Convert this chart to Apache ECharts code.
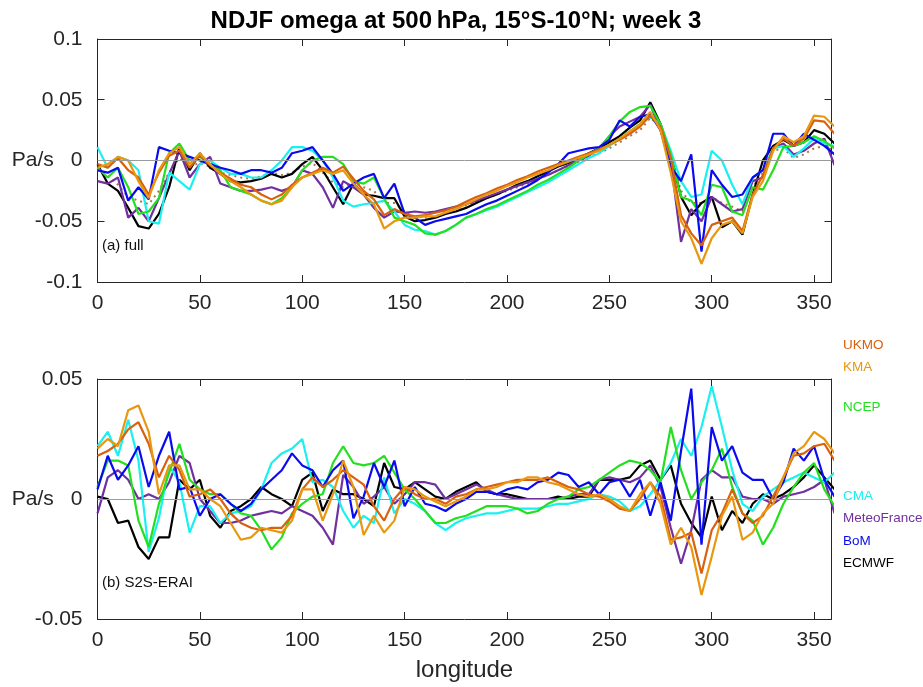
<!DOCTYPE html>
<html>
<head>
<meta charset="utf-8">
<script src="https://cdn.jsdelivr.net/npm/echarts@6/dist/echarts.min.js"></script>
<style>
  html, body { margin: 0; padding: 0; background: #fff; }
  #chart { width: 923px; height: 687px; }
</style>
</head>
<body>
<div id="chart"></div>
<script>
// longitude (deg E), shared by both panels
const lon = [0, 5, 10, 15, 20, 25, 30, 35, 40, 45, 50, 55, 60, 65, 70, 75, 80, 85, 90, 95,
  100, 105, 110, 115, 120, 125, 130, 135, 140, 145, 150, 155, 160, 165, 170, 175, 180, 185, 190, 195,
  200, 205, 210, 215, 220, 225, 230, 235, 240, 245, 250, 255, 260, 265, 270, 275, 280, 285, 290, 295,
  300, 305, 310, 315, 320, 325, 330, 335, 340, 345, 350, 355, 360];

// (a) full field, Pa/s
const ukmoTop = [-0.003, -0.006, 0.002, -0.008, -0.014, -0.028, -0.01, 0.004, 0.008, -0.006,
  0.004, -0.004, -0.01, -0.015, -0.02, -0.022, -0.028, -0.032, -0.028, -0.02,
  -0.014, -0.01, -0.006, -0.01, -0.005, -0.015, -0.025, -0.032, -0.045, -0.04,
  -0.044, -0.046, -0.045, -0.043, -0.041, -0.038, -0.034, -0.03, -0.027, -0.023,
  -0.02, -0.016, -0.013, -0.009, -0.006, -0.003, 0, 0.003, 0.006, 0.009,
  0.013, 0.017, 0.022, 0.028, 0.037, 0.028, 0.002, -0.045, -0.06, -0.07,
  -0.053, -0.05, -0.047, -0.058, -0.028, -0.012, 0.01, 0.018, 0.012, 0.018,
  0.033, 0.032, 0.022];
const kmaTop = [-0.006, -0.003, 0.003, 0, -0.017, -0.031, -0.008, 0.006, 0.011, -0.003,
  0.006, -0.003, -0.011, -0.017, -0.022, -0.028, -0.033, -0.036, -0.033, -0.022,
  -0.014, -0.011, -0.008, -0.011, -0.008, -0.019, -0.028, -0.036, -0.056, -0.05,
  -0.047, -0.047, -0.046, -0.046, -0.043, -0.04, -0.036, -0.032, -0.028, -0.025,
  -0.021, -0.018, -0.014, -0.011, -0.008, -0.004, -0.001, 0.002, 0.005, 0.008,
  0.013, 0.018, 0.024, 0.03, 0.04, 0.025, -0.01, -0.05, -0.064, -0.085,
  -0.064, -0.053, -0.05, -0.06, -0.03, -0.017, 0.008, 0.02, 0.015, 0.02,
  0.037, 0.036, 0.028];
const ncepTop = [-0.006, -0.014, -0.006, -0.022, -0.044, -0.042, -0.031, 0.006, 0.014, 0,
  0.003, -0.003, -0.008, -0.022, -0.025, -0.028, -0.033, -0.036, -0.031, -0.022,
  -0.008, 0, 0.003, 0.003, -0.003, -0.017, -0.019, -0.014, -0.031, -0.047,
  -0.05, -0.053, -0.06, -0.061, -0.058, -0.053, -0.047, -0.044, -0.04, -0.037,
  -0.033, -0.029, -0.025, -0.02, -0.016, -0.011, -0.006, 0, 0.005, 0.01,
  0.02, 0.032, 0.04, 0.044, 0.045, 0.03, 0.005, -0.03, -0.033, -0.045,
  -0.02, -0.022, -0.042, -0.045, -0.022, -0.024, -0.008, 0.011, 0.012, 0.015,
  0.02, 0.016, 0.01];
const cmaTop = [0.011, -0.006, 0.003, 0, -0.008, -0.05, -0.052, -0.01, -0.017, -0.024,
  -0.003, 0, -0.006, -0.011, -0.011, -0.014, -0.014, -0.008, 0, 0.011,
  0.011, 0.008, 0, -0.014, -0.033, -0.038, -0.036, -0.035, -0.033, -0.042,
  -0.053, -0.057, -0.058, -0.061, -0.058, -0.053, -0.047, -0.044, -0.041, -0.038,
  -0.034, -0.03, -0.026, -0.022, -0.018, -0.013, -0.008, -0.003, 0.002, 0.006,
  0.012, 0.018, 0.024, 0.03, 0.036, 0.03, 0.008, -0.017, -0.03, -0.028,
  0.008, 0, -0.02, -0.036, -0.014, -0.008, 0.01, 0.012, 0.003, 0.01,
  0.018, 0.014, 0.012];
const mfTop = [-0.017, -0.019, -0.014, -0.047, -0.039, -0.05, -0.031, -0.011, 0.008, -0.014,
  -0.003, 0.003, -0.019, -0.022, -0.025, -0.025, -0.024, -0.022, -0.025, -0.022,
  -0.008, -0.011, -0.022, -0.039, -0.017, -0.022, -0.028, -0.039, -0.047, -0.042,
  -0.043, -0.042, -0.043, -0.042, -0.04, -0.038, -0.036, -0.033, -0.03, -0.027,
  -0.024, -0.021, -0.018, -0.015, -0.012, -0.008, -0.004, 0, 0.004, 0.01,
  0.02, 0.028, 0.032, 0.036, 0.046, 0.025, 0, -0.067, -0.04, -0.05,
  -0.03, -0.036, -0.042, -0.04, -0.017, -0.014, 0.01, 0.014, 0.005, 0.008,
  0.014, 0.018, -0.004];
const bomTop = [-0.008, -0.01, -0.006, -0.033, -0.022, -0.032, 0.011, 0.008, 0.006, 0.003,
  0, -0.003, -0.006, -0.008, -0.011, -0.008, -0.008, -0.01, -0.006, 0.006,
  0.008, 0.011, 0, -0.011, -0.025, -0.019, -0.014, -0.011, -0.031, -0.019,
  -0.044, -0.047, -0.053, -0.05, -0.048, -0.046, -0.044, -0.04, -0.036, -0.033,
  -0.029, -0.025, -0.021, -0.016, -0.01, -0.003, 0.006, 0.008, 0.01, 0.011,
  0.017, 0.033, 0.028, 0.036, 0.038, 0.025, -0.005, -0.017, 0.005, -0.075,
  -0.008, -0.02, -0.03, -0.028, -0.014, -0.008, 0.022, 0.022, 0.012, 0.022,
  0.017, 0.012, 0.005];
const ecmwfTop = [-0.003, -0.019, -0.025, -0.039, -0.054, -0.056, -0.044, -0.022, 0.011, -0.008,
  0.006, -0.006, -0.011, -0.017, -0.018, -0.017, -0.015, -0.011, -0.014, -0.011,
  -0.003, 0.003, -0.008, -0.022, -0.036, -0.019, -0.028, -0.029, -0.031, -0.031,
  -0.046, -0.05, -0.049, -0.047, -0.044, -0.042, -0.039, -0.035, -0.031, -0.028,
  -0.024, -0.02, -0.017, -0.013, -0.009, -0.005, -0.002, 0.002, 0.006, 0.01,
  0.015, 0.02, 0.027, 0.033, 0.048, 0.03, 0.005, -0.03, -0.045, -0.035,
  -0.03, -0.055, -0.05, -0.061, -0.028, 0, 0.012, 0.017, 0.012, 0.015,
  0.025, 0.022, 0.014];
const eraiTop = [-0.008, -0.012, -0.02, -0.03, -0.033, -0.036, -0.025, -0.01, 0.002, -0.005,
  -0.002, -0.005, -0.01, -0.012, -0.014, -0.015, -0.013, -0.01, -0.012, -0.01,
  -0.005, -0.002, -0.01, -0.018, -0.022, -0.018, -0.022, -0.025, -0.035, -0.035,
  -0.042, -0.046, -0.047, -0.046, -0.043, -0.04, -0.037, -0.034, -0.031, -0.028,
  -0.025, -0.022, -0.019, -0.015, -0.012, -0.008, -0.005, -0.001, 0.003, 0.006,
  0.01, 0.015, 0.02, 0.025, 0.035, 0.028, 0.005, -0.025, -0.035, -0.035,
  -0.03, -0.035, -0.038, -0.042, -0.022, -0.01, 0.008, 0.01, 0.002, 0.005,
  0.01, 0.012, 0.008];

// (b) S2S minus ERAI, Pa/s
const ukmoBot = [0.018, 0.02, 0.023, 0.029, 0.032, 0.023, 0.009, 0.018, 0.012, 0.001,
  0.002, 0.004, 0, -0.006, -0.01, -0.012, -0.013, -0.012, -0.012, -0.007,
  0.004, 0.009, 0.005, 0.008, 0.012, 0.009, 0.006, -0.003, -0.009, 0,
  0.005, 0.002, 0, 0, -0.002, 0.001, 0.002, 0.004, 0.005, 0.006,
  0.007, 0.008, 0.008, 0.008, 0.009, 0.007, 0.005, 0.004, 0.002, 0.001,
  -0.001, -0.004, -0.005, 0, 0.007, 0.001, -0.017, -0.016, -0.014, -0.031,
  -0.013, -0.006, 0.004, -0.006, -0.01, -0.007, 0.001, 0.009, 0.018, 0.019,
  0.022, 0.023, 0.016];
const kmaBot = [0.021, 0.025, 0.022, 0.037, 0.039, 0.028, 0.002, 0.014, 0.014, 0.004,
  0.004, 0, -0.003, -0.01, -0.017, -0.016, -0.012, -0.013, -0.014, -0.009,
  0.004, 0.004, -0.009, 0.002, 0.016, 0.005, -0.015, -0.007, -0.014, -0.009,
  0.005, 0.004, 0.001, -0.001, -0.003, -0.001, 0.001, 0.004, 0.004, 0.005,
  0.007, 0.007, 0.009, 0.009, 0.007, 0.006, 0.004, 0.002, 0.001, 0.002,
  0, -0.003, -0.005, 0.002, 0.007, -0.002, -0.019, -0.012, -0.02, -0.04,
  -0.024, -0.007, 0.001, -0.017, -0.014, -0.006, -0.002, 0.009, 0.019, 0.022,
  0.028, 0.025, 0.019];
const ncepBot = [0.005, 0.016, 0.016, 0.014, -0.009, -0.02, -0.002, 0.011, 0.023, 0.008,
  0.004, 0.002, 0.002, -0.002, -0.006, -0.007, -0.013, -0.021, -0.016, -0.006,
  -0.002, 0.001, 0.002, 0.015, 0.022, 0.015, 0.014, 0.015, 0.018, 0.011,
  0.004, 0, -0.005, -0.01, -0.01, -0.008, -0.007, -0.005, -0.003, -0.003,
  -0.003, -0.004, -0.006, -0.005, -0.002, 0, 0.001, 0.004, 0.005, 0.008,
  0.011, 0.014, 0.016, 0.015, 0.012, 0.007, 0.03, 0.012, 0, 0.007,
  0.012, 0.021, 0.005, -0.006, -0.009, -0.019, -0.012, -0.002, 0.005, 0.011,
  0.015, 0.004, -0.003];
const cmaBot = [0.022, 0.028, 0.018, 0.033, 0.016, -0.022, -0.008, 0.014, 0.007, -0.014,
  -0.003, -0.003, -0.01, -0.006, -0.005, -0.003, 0.004, 0.015, 0.019, 0.021,
  0.025, 0.007, 0.008, 0.005, -0.005, -0.012, -0.007, -0.01, 0.009, -0.006,
  0, -0.002, -0.005, -0.01, -0.013, -0.01, -0.008, -0.007, -0.006, -0.006,
  -0.005, -0.004, -0.004, -0.004, -0.003, -0.002, -0.002, -0.001, 0, 0.002,
  0.001, -0.001, -0.005, -0.003, 0.002, 0.008, 0.015, 0.025, 0.018, 0.03,
  0.047, 0.03, 0.012, -0.002, -0.005, 0.001, 0.004, 0.007, 0.009, 0.011,
  0.009, 0.007, 0.011];
const mfBot = [-0.006, 0.009, 0.012, 0.008, 0, 0.002, 0, 0.007, 0.018, 0.015,
  0, -0.005, -0.01, -0.01, -0.009, -0.007, -0.006, -0.005, -0.006, -0.003,
  -0.005, -0.007, -0.012, -0.019, 0.01, 0.005, -0.002, 0.001, 0.005, -0.002,
  0.002, 0.007, 0.007, 0.006, 0, 0.002, 0.004, 0.006, 0.004, 0.002,
  0.001, 0, 0, 0, 0, 0, 0.001, 0.002, 0.002, 0.008,
  0.009, 0.008, 0.007, 0.009, 0.014, 0.005, -0.012, -0.027, -0.013, 0.008,
  0.012, 0.009, 0.009, 0.001, 0, 0, -0.002, 0.001, 0.002, 0.003,
  0.005, 0.008, -0.006];
const bomBot = [0.004, 0.018, 0.008, 0.014, 0.022, 0.005, 0.018, 0.028, 0.004, 0.005,
  -0.007, 0, 0.002, -0.002, -0.005, -0.002, 0.004, 0.008, 0.012, 0.019,
  0.014, 0.012, 0.005, 0.012, 0.016, -0.008, 0.001, 0.015, 0.005, 0.016,
  -0.003, 0.005, -0.002, -0.003, -0.005, -0.002, 0, 0.003, 0.003, 0.002,
  0.004, 0.005, 0.004, 0.007, 0.008, 0.011, 0.01, 0.005, 0.007, 0.002,
  0.007, 0.008, 0.001, 0.008, -0.007, 0.007, -0.009, 0.02, 0.046, -0.019,
  0.03, 0.016, 0.022, 0.011, 0.008, 0.008, 0, 0.007, 0.021, 0.016,
  0.022, 0.008, 0.001];
const ecmwfBot = [0.001, 0, -0.01, -0.009, -0.02, -0.025, -0.016, -0.016, 0.008, 0.004,
  0.008, -0.007, -0.012, -0.005, -0.003, 0, 0.005, 0.002, 0, -0.003,
  0.008, 0.011, -0.005, 0.004, 0.002, 0.002, 0, -0.003, 0.015, 0.005,
  0.004, 0.007, 0.004, 0.001, 0, 0.003, 0.005, 0.007, 0.003, 0.002,
  0.002, 0.001, 0, 0, 0, 0.001, 0, 0.001, 0.001, 0.008,
  0.008, 0.008, 0.009, 0.014, 0.016, 0.008, 0.014, -0.002, -0.01, -0.016,
  0.001, -0.013, -0.005, -0.01, -0.002, 0.002, 0, 0.002, 0.005, 0.009,
  0.014, 0.009, 0.004];

const models = ["UKMO", "KMA", "NCEP", "CMA", "MeteoFrance", "BoM", "ECMWF"];
const colors = {
  UKMO: "#d9600c", KMA: "#e8970f", NCEP: "#22e01e", CMA: "#19f0f0",
  MeteoFrance: "#7030a0", BoM: "#0a0af0", ECMWF: "#000000",
};
const labelY = { UKMO: 347, KMA: 369, NCEP: 409, CMA: 498, MeteoFrance: 520, BoM: 543, ECMWF: 565 };

const font = "'Liberation Sans', Arial, Helvetica, sans-serif";
const chart = echarts.init(document.getElementById("chart"));

const pairs = (arr) => arr.map((v, i) => [lon[i], v]);

const line = (name, arr, color, idx, extra) => Object.assign({
  name, type: "line", data: pairs(arr), xAxisIndex: idx, yAxisIndex: idx,
  showSymbol: false, symbol: "none", animation: false, z: 3, clip: true,
  lineStyle: { color, width: 2.2 }, itemStyle: { color },
}, extra || {});

const zeroLine = (idx) => ({
  type: "line", data: [], xAxisIndex: idx, yAxisIndex: idx, z: 1, animation: false,
  markLine: {
    silent: true, symbol: "none", label: { show: false },
    lineStyle: { color: "#9a9a9a", width: 1, type: "solid" },
    data: [{ yAxis: 0 }],
  },
});

const yfmt = (v) => {
  if (Math.abs(v) < 1e-9) return "{u|Pa/s}{z|0}";
  return String(+v.toFixed(2));
};

const XMAX = 358.5;
const tick = { show: true, inside: true, length: 7, lineStyle: { color: "#262626", width: 1 } };
const axLine = { show: true, onZero: false, lineStyle: { color: "#262626", width: 1 } };
const lbl = { color: "#262626", fontSize: 21, fontFamily: font };

const xMain = (gridIndex, extra) => Object.assign({
  type: "value", gridIndex, min: 0, max: XMAX, interval: 50,
  axisLine: axLine, axisTick: tick, splitLine: { show: false },
  axisLabel: Object.assign({ margin: 11, showMaxLabel: false }, lbl),
}, extra || {});
const xTop = (gridIndex) => ({
  type: "value", gridIndex, position: "top", min: 0, max: XMAX, interval: 50,
  axisLine: axLine, axisTick: tick, axisLabel: { show: false }, splitLine: { show: false },
});
const yMain = (gridIndex, min, max) => ({
  type: "value", gridIndex, min, max, interval: 0.05,
  axisLine: axLine, axisTick: tick, splitLine: { show: false },
  axisLabel: Object.assign({
    margin: 15, formatter: yfmt,
    rich: {
      u: { fontSize: 21, fontFamily: font, color: "#262626" },
      z: { fontSize: 21, fontFamily: font, color: "#262626", padding: [0, 0, 0, 17] },
    },
  }, lbl),
});
const yRight = (gridIndex, min, max) => ({
  type: "value", gridIndex, position: "right", min, max, interval: 0.05,
  axisLine: axLine, axisTick: tick, axisLabel: { show: false }, splitLine: { show: false },
});

const topSeries = [
  line("ERAI", eraiTop, "#a0784c", 0, { lineStyle: { color: "#a0784c", width: 2, type: [2, 4] }, z: 2 }),
  line("ECMWF", ecmwfTop, colors.ECMWF, 0),
  line("MeteoFrance", mfTop, colors.MeteoFrance, 0),
  line("CMA", cmaTop, colors.CMA, 0),
  line("NCEP", ncepTop, colors.NCEP, 0),
  line("BoM", bomTop, colors.BoM, 0),
  line("UKMO", ukmoTop, colors.UKMO, 0),
  line("KMA", kmaTop, colors.KMA, 0),
];
const botSeries = [
  line("ECMWF", ecmwfBot, colors.ECMWF, 2),
  line("MeteoFrance", mfBot, colors.MeteoFrance, 2),
  line("CMA", cmaBot, colors.CMA, 2),
  line("NCEP", ncepBot, colors.NCEP, 2),
  line("BoM", bomBot, colors.BoM, 2),
  line("UKMO", ukmoBot, colors.UKMO, 2),
  line("KMA", kmaBot, colors.KMA, 2),
];

const option = {
  backgroundColor: "#fff",
  animation: false,
  title: {
    text: "NDJF omega at 500\u2009hPa, 15°S-10°N; week 3",
    left: 451, top: 4, textAlign: "center",
    textStyle: { fontSize: 24, fontWeight: "bold", fontFamily: font, color: "#000" },
  },
  grid: [
    { left: 97.5, top: 39, width: 734, height: 243 },
    { left: 97.5, top: 379, width: 734, height: 240 },
  ],
  xAxis: [
    xMain(0),
    xTop(0),
    xMain(1, {
      name: "longitude", nameLocation: "middle", nameGap: 39,
      nameTextStyle: { fontSize: 24, fontFamily: font, color: "#262626" },
    }),
    xTop(1),
  ],
  yAxis: [
    yMain(0, -0.1, 0.1),
    yRight(0, -0.1, 0.1),
    yMain(1, -0.05, 0.05),
    yRight(1, -0.05, 0.05),
  ],
  graphic: [
    { type: "text", left: 102, top: 238, style: { text: "(a) full", fontSize: 15, fontFamily: font, fill: "#111" } },
    { type: "text", left: 102, top: 575, style: { text: "(b) S2S-ERAI", fontSize: 15, fontFamily: font, fill: "#111" } },
  ].concat(models.map((m) => ({
    type: "text", left: 843, top: labelY[m] - 9,
    style: { text: m, fontSize: 13.5, fontFamily: font, fill: colors[m] },
  }))),
  series: [zeroLine(0), ...topSeries, zeroLine(2), ...botSeries],
};

chart.setOption(option);
</script>
</body>
</html>
